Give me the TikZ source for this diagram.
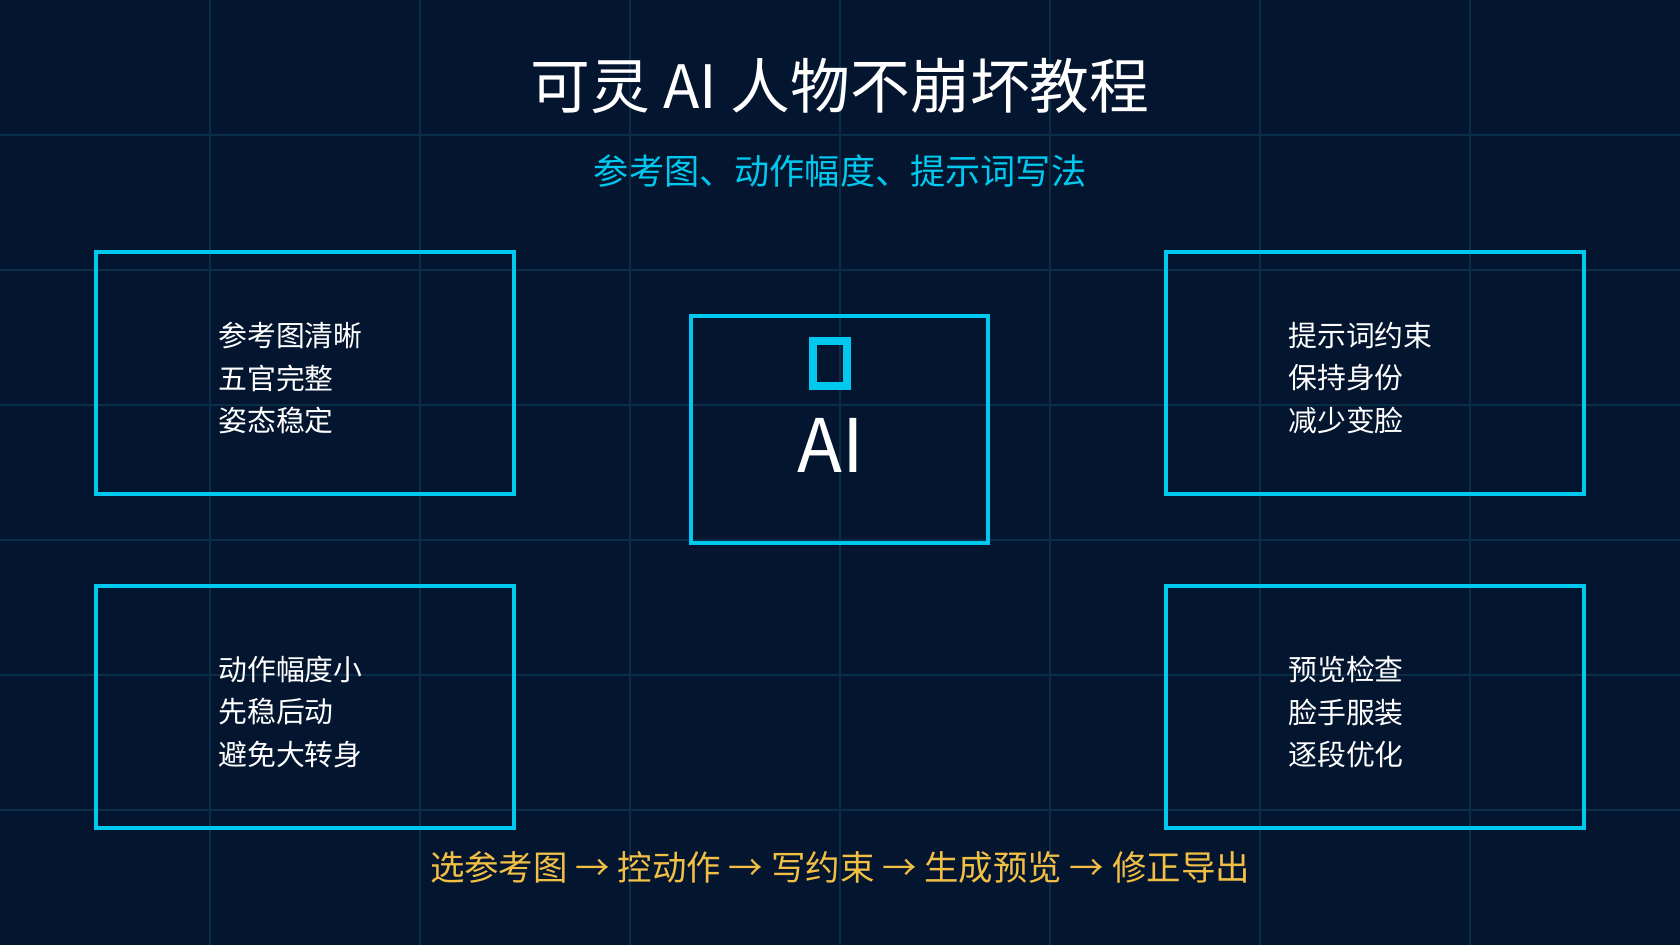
\documentclass[tikz,border=0pt]{standalone}
\usepackage{fontspec}
\setmainfont{Noto Sans CJK SC}
\definecolor{bgblue}{HTML}{04152F}
\definecolor{gridblue}{HTML}{0B2E48}
\definecolor{cyanline}{HTML}{00C8EE}
\definecolor{goldtext}{HTML}{F2BF45}
\tikzset{
  card/.style={draw=cyanline, line width=1.1pt},
  cardtext/.style={text=white, font=\fontsize{8.2}{12}\selectfont, align=left, anchor=west},
}
\begin{document}
\begin{tikzpicture}[x=0.01cm, y=-0.01cm]
        % Background and grid
        \fill[bgblue] (0,0) rectangle (1680,945);
        \useasboundingbox (0,0) rectangle (1680,945);
        \foreach \x in {210,420,...,1470} {
            \draw[gridblue, line width=0.5pt] (\x,0) -- (\x,945);
        }
        \foreach \y in {135,270,...,810} {
            \draw[gridblue, line width=0.5pt] (0,\y) -- (1680,\y);
        }

        % Title
        \node[text=white, font=\fontsize{17}{20}\selectfont] (title) at (840,86) {可灵 AI 人物不崩坏教程};
        \node[text=cyanline, font=\fontsize{10}{12}\selectfont] (subtitle) at (840,171) {参考图、动作幅度、提示词写法};

        % Cards
        \draw[card] (96,252) rectangle (514,494);
        \draw[card] (1166,252) rectangle (1584,494);
        \draw[card] (96,586) rectangle (514,828);
        \draw[card] (1166,586) rectangle (1584,828);
        \draw[card] (691,316) rectangle (988,543);

        \node[cardtext] (refs) at (206,378) {参考图清晰\\五官完整\\姿态稳定};
        \node[cardtext] (prompt) at (1276,378) {提示词约束\\保持身份\\减少变脸};
        \node[cardtext] (motion) at (206,712) {动作幅度小\\先稳后动\\避免大转身};
        \node[cardtext] (check) at (1276,712) {预览检查\\脸手服装\\逐段优化};

        % Center
        \draw[cyanline, line width=2.2pt] (813,341) rectangle (847,386);
        \node[text=white, font=\fontsize{21}{24}\selectfont] (ai) at (831,445) {AI};

        % Flow
        \node[text=goldtext, font=\fontsize{9.8}{12}\selectfont] (flow) at (840,867) {选参考图 → 控动作 → 写约束 → 生成预览 → 修正导出};
\end{tikzpicture}
\end{document}
